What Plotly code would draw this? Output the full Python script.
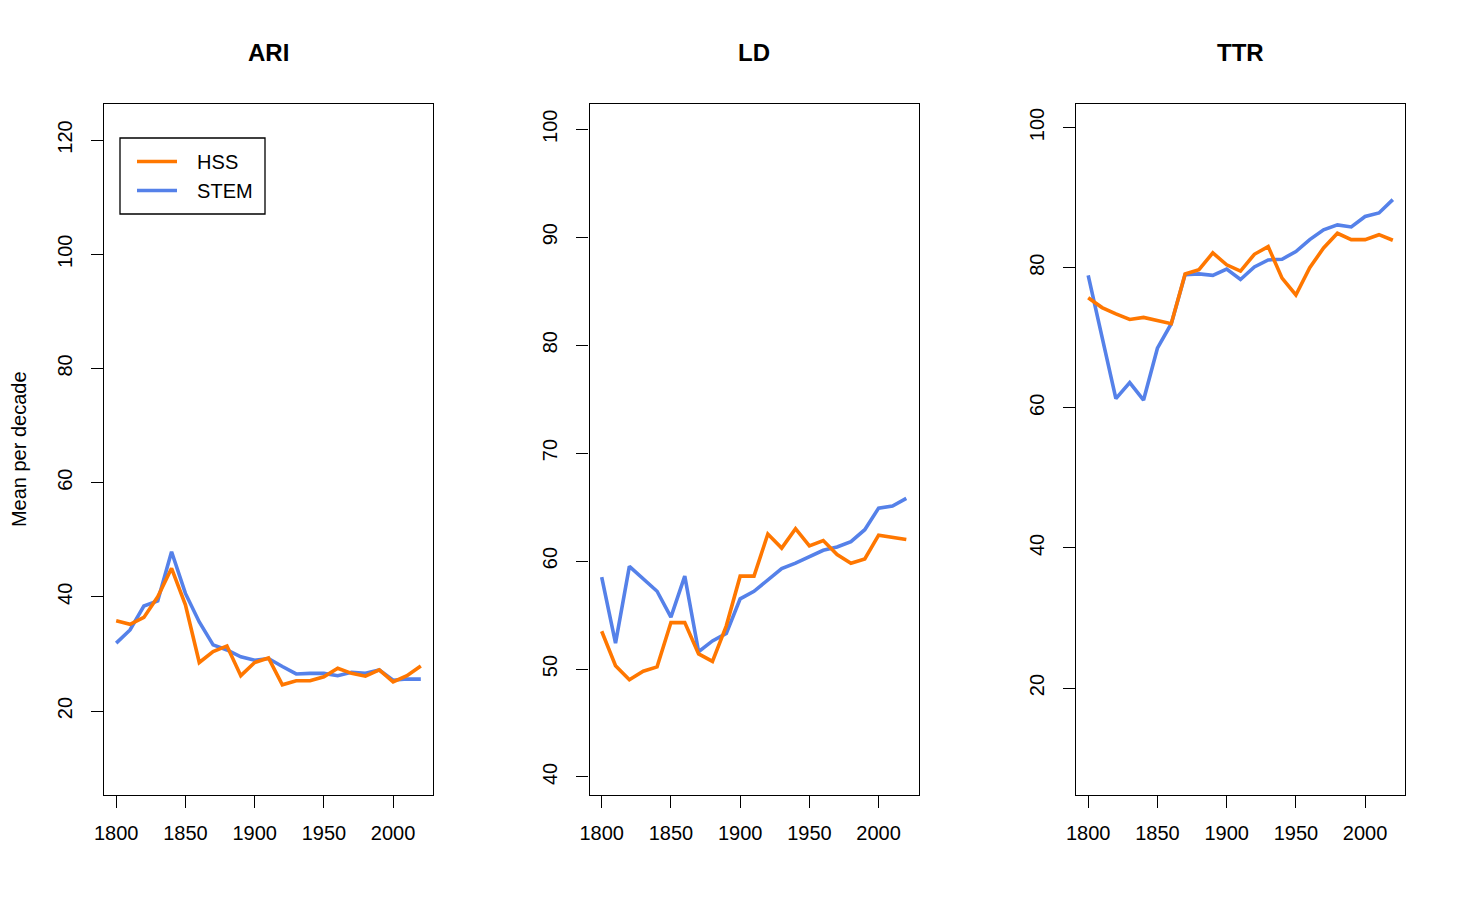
import plotly.graph_objects as go

years = [1800, 1810, 1820, 1830, 1840, 1850, 1860, 1870, 1880, 1890, 1900, 1910,
         1920, 1930, 1940, 1950, 1960, 1970, 1980, 1990, 2000, 2010, 2020]

ari_hss = [35.8, 35.2, 36.4, 40.0, 45.0, 38.6, 28.5, 30.4, 31.4, 26.2, 28.5, 29.3,
           24.6, 25.3, 25.3, 26.0, 27.5, 26.6, 26.1, 27.2, 25.1, 26.2, 27.9]
ari_stem = [31.9, 34.2, 38.4, 39.3, 47.9, 40.6, 35.6, 31.6, 30.7, 29.5, 28.9, 29.2,
            27.8, 26.5, 26.6, 26.6, 26.2, 26.8, 26.6, 27.2, 25.4, 25.6, 25.6]

ld_hss = [53.5, 50.3, 49.0, 49.8, 50.2, 54.3, 54.3, 51.4, 50.7, 54.0, 58.6, 58.6,
          62.5, 61.2, 63.0, 61.4, 61.9, 60.6, 59.8, 60.2, 62.4, 62.2, 62.0]
ld_stem = [58.5, 52.4, 59.5, 58.3, 57.2, 54.8, 58.6, 51.6, 52.6, 53.3, 56.5, 57.2,
           58.3, 59.3, 59.8, 60.4, 61.0, 61.3, 61.8, 62.9, 64.9, 65.1, 65.8]

ttr_hss = [75.7, 74.3, 73.4, 72.6, 72.9, 72.4, 72.0, 79.1, 79.7, 82.1, 80.4, 79.5,
           81.9, 83.0, 78.5, 76.1, 80.0, 82.8, 84.9, 84.0, 84.0, 84.7, 83.9]
ttr_stem = [78.9, 70.2, 61.3, 63.6, 61.1, 68.5, 72.0, 79.0, 79.1, 78.9, 79.8, 78.3,
            80.1, 81.1, 81.2, 82.3, 84.0, 85.4, 86.1, 85.8, 87.3, 87.8, 89.7]

panel_titles = ["ARI", "LD", "TTR"]
series_names = ["HSS", "STEM"]
x_ticks = [1800, 1850, 1900, 1950, 2000]
y_ticks = [[20, 40, 60, 80, 100, 120], [40, 50, 60, 70, 80, 90, 100], [20, 40, 60, 80, 100]]
y_ranges = [[5.3, 126.4], [38.33, 102.38], [4.74, 103.42]]
x_range = [1791.2, 2028.8]

ORANGE = "#FF7700"
BLUE = "#5581E9"
FONT = "Liberation Sans, Arial, Helvetica, sans-serif"

# page body has an 8px margin: build the figure 8px smaller and shift positions
OFF = 8
W, H = 1458 - OFF, 924 - OFF


def px_x(p):
    return (p - OFF) / W


def px_y(p):
    return 1 - (p - OFF) / H


x_doms = [[px_x(104), px_x(433)], [px_x(589.5), px_x(918.5)], [px_x(1076), px_x(1405)]]
y_dom = [px_y(795), px_y(103.5)]

series = [(ari_hss, ari_stem), (ld_hss, ld_stem), (ttr_hss, ttr_stem)]
PAD = "\u00a0\u00a0\u2009"

fig = go.Figure()
for i, (hss, stem) in enumerate(series):
    sfx = "" if i == 0 else str(i + 1)
    fig.add_trace(go.Scatter(x=years, y=stem, mode="lines", name=PAD + series_names[1],
                             line=dict(color=BLUE, width=3.6),
                             xaxis="x" + sfx, yaxis="y" + sfx,
                             showlegend=(i == 0), legendrank=2))
    fig.add_trace(go.Scatter(x=years, y=hss, mode="lines", name=PAD + series_names[0],
                             line=dict(color=ORANGE, width=3.6),
                             xaxis="x" + sfx, yaxis="y" + sfx,
                             showlegend=(i == 0), legendrank=1))

layout = dict(
    width=W, height=H,
    margin=dict(l=0, r=0, t=0, b=0),
    paper_bgcolor="white", plot_bgcolor="white",
    font=dict(family=FONT, size=20, color="black"),
    showlegend=True,
    legend=dict(x=px_x(132), y=px_y(142), xanchor="left", yanchor="top",
                borderwidth=0, bgcolor="rgba(0,0,0,0)",
                font=dict(size=20), itemwidth=40, tracegroupgap=0),
    shapes=[dict(type="rect", xref="paper", yref="paper",
                 x0=px_x(120), x1=px_x(265), y0=px_y(214), y1=px_y(138),
                 line=dict(color="black", width=1.3), fillcolor="rgba(0,0,0,0)")],
)

annotations = []
for i in range(3):
    sfx = "" if i == 0 else str(i + 1)
    ax = dict(domain=x_doms[i], range=x_range, tickvals=x_ticks,
              ticktext=[str(t) for t in x_ticks],
              showline=True, mirror=True, linecolor="black", linewidth=1.3,
              ticks="outside", ticklen=12, tickwidth=1.3, tickcolor="black",
              showgrid=False, zeroline=False, automargin=False,
              ticklabelstandoff=8,
              anchor="y" + sfx, tickfont=dict(size=20))
    ay = dict(domain=y_dom, range=y_ranges[i], tickvals=y_ticks[i],
              ticktext=[str(t) for t in y_ticks[i]],
              showline=True, mirror=True, linecolor="black", linewidth=1.3,
              ticks="outside", ticklen=12, tickwidth=1.3, tickcolor="black",
              showgrid=False, zeroline=False, automargin=False,
              tickangle=-90, ticklabelstandoff=11,
              anchor="x" + sfx, tickfont=dict(size=20))
    if i == 0:
        ay["title"] = dict(text="Mean per decade", font=dict(size=20), standoff=30)
    layout["xaxis" + sfx] = ax
    layout["yaxis" + sfx] = ay
    annotations.append(dict(text="<b>" + panel_titles[i] + "</b>",
                            x=(x_doms[i][0] + x_doms[i][1]) / 2, y=px_y(53),
                            xref="paper", yref="paper", xanchor="center", yanchor="middle",
                            showarrow=False, font=dict(size=24, family=FONT)))
layout["annotations"] = annotations
fig.update_layout(**layout)
fig.write_html("out.html")
